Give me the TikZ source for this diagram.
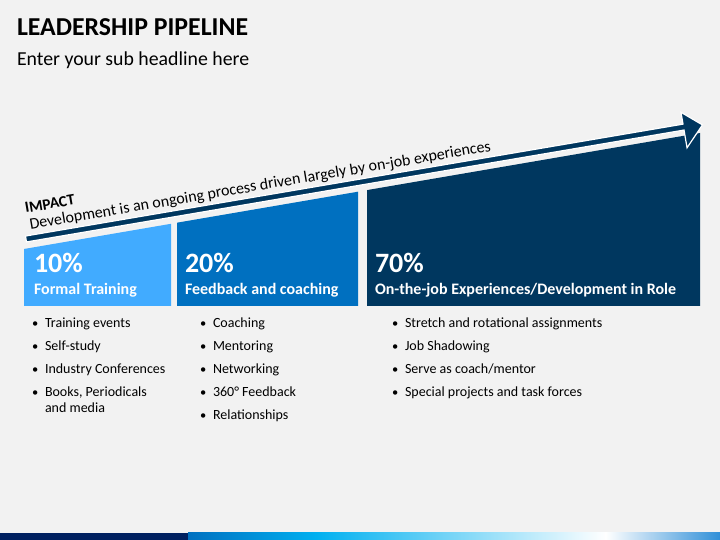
\documentclass[tikz,border=0pt]{standalone}
\usepackage{fontspec}
\setmainfont{Carlito}
\definecolor{bg}{HTML}{F2F2F2}
\definecolor{lblue}{HTML}{41ABFF}
\definecolor{mblue}{HTML}{0070C0}
\definecolor{dblue}{HTML}{00375F}
\definecolor{navy}{HTML}{002060}
\definecolor{cyanb}{HTML}{00B0F0}
\definecolor{endb}{HTML}{2F8FD8}
\begin{document}
\begin{tikzpicture}[x=1pt,y=1pt,
  txt/.style={inner sep=0pt, outer sep=0pt, anchor=base west},
  bul/.style={txt, font=\fontsize{14}{16}\selectfont, align=left},
  dotb/.style={txt, font=\fontsize{12.5}{16}\selectfont},
  pct/.style={txt, text=white, font=\fontsize{28}{30}\selectfont\bfseries},
  capt/.style={txt, text=white, font=\fontsize{16}{18}\selectfont\bfseries},
  slant/.style={txt, rotate=9.66}]
\useasboundingbox (0,0) rectangle (720,540);
\fill[bg] (0,0) rectangle (720,540);
% title
\node[txt, font=\fontsize{25.8}{28}\selectfont\bfseries] (title) at (17,504) {LEADERSHIP PIPELINE};
\node[txt, font=\fontsize{19.8}{22}\selectfont] (sub) at (17,474.5) {Enter your sub headline here};
% boxes
\fill[lblue] (24,234) -- (171,234) -- (171,316.2) -- (24,291) -- cycle;
\fill[mblue] (177,234) -- (358,234) -- (358,348.3) -- (177,317.3) -- cycle;
\fill[dblue] (367,234) -- (700,234) -- (700,407) -- (367,349.9) -- cycle;
% arrow
\begin{scope}[shift={(26,301)}, rotate=9.66]
  \filldraw[fill=dblue, draw=white, line width=1.2pt, line join=miter]
    (0,-3) -- (667,-3) -- (667,-21) -- (686,-1) -- (667,15) -- (667,3) -- (0,3) -- cycle;
\end{scope}
% slanted texts
\node[slant, font=\fontsize{15.5}{18}\selectfont\bfseries] (impact) at (26,327) {IMPACT};
\node[slant, font=\fontsize{16}{18}\selectfont] (devel) at (30.5,310.5) {Development is an ongoing process driven largely by on-job experiences};
% box texts
\node[pct] (p1) at (34,267) {10\%};
\node[capt] (t1) at (34,245) {Formal Training};
\node[pct] (p2) at (185,267) {20\%};
\node[capt] (t2) at (185,245) {Feedback and coaching};
\node[pct] (p3) at (375,267) {70\%};
\node[capt] (t3) at (375,245) {On-the-job Experiences/Development in Role};
% bullets column 1
\node[dotb] (d11) at (32,212.5) {•}; \node[bul] (c11) at (45,212) {Training events};
\node[dotb] (d12) at (32,189.5) {•}; \node[bul] (c12) at (45,189) {Self-study};
\node[dotb] (d13) at (32,166.5) {•}; \node[bul] (c13) at (45,166) {Industry Conferences};
\node[dotb] (d14) at (32,143.5) {•}; \node[bul] (c14) at (45,127) {Books, Periodicals\\and media};
% bullets column 2
\node[dotb] (d21) at (200,212.5) {•}; \node[bul] (c21) at (213,212) {Coaching};
\node[dotb] (d22) at (200,189.5) {•}; \node[bul] (c22) at (213,189) {Mentoring};
\node[dotb] (d23) at (200,166.5) {•}; \node[bul] (c23) at (213,166) {Networking};
\node[dotb] (d24) at (200,143.5) {•}; \node[bul] (c24) at (213,143) {360° Feedback};
\node[dotb] (d25) at (200,120.5) {•}; \node[bul] (c25) at (213,120) {Relationships};
% bullets column 3
\node[dotb] (d31) at (392,212.5) {•}; \node[bul] (c31) at (405,212) {Stretch and rotational assignments};
\node[dotb] (d32) at (392,189.5) {•}; \node[bul] (c32) at (405,189) {Job Shadowing};
\node[dotb] (d33) at (392,166.5) {•}; \node[bul] (c33) at (405,166) {Serve as coach/mentor};
\node[dotb] (d34) at (392,143.5) {•}; \node[bul] (c34) at (405,143) {Special projects and task forces};
% bottom bar
\fill[navy] (0,0) rectangle (188,7);
\shade[left color=mblue, right color=cyanb] (188,0) rectangle (316,7);
\shade[left color=cyanb, right color=white] (315.5,0) rectangle (606,7);
\shade[left color=white, right color=endb] (605.5,0) rectangle (720,7);
\end{tikzpicture}
\end{document}
